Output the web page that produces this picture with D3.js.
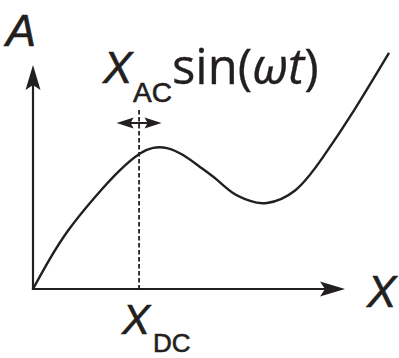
<!DOCTYPE html>
<html><head><meta charset="utf-8">
<script src="https://cdn.jsdelivr.net/npm/d3@7"></script>
<style>html,body{margin:0;padding:0;background:#fff;} svg{display:block}</style>
</head><body><svg id="c" width="399" height="358"></svg>
<script>
// Response curve A(X) (arbitrary units)
const curveX = [0, 0.48, 1.12, 1.99, 2.79, 3.43, 3.85, 4.29, 4.81, 5.35, 5.90, 6.41, 6.96, 7.50, 8.40, 9.30, 10.30, 11.41];
const curveA = [0, 1.20, 2.60, 4.11, 5.31, 6.05, 6.30, 6.29, 5.98, 5.45, 4.87, 4.29, 3.93, 3.84, 4.40, 5.90, 8.00, 10.54];
const xDC = 3.40;        // operating point
const xAC = 0.72;        // modulation amplitude
const dashTopA = 7.99;   // top of the dashed marker
const acArrowA = 7.41;   // level of the double arrow
const axisMaxX = 10, axisMaxA = 10;
const labels = { a: "A", x: "X", xac: "AC", xdc: "DC", sinPre: "sin(", omegaT: "ωt", sinPost: ")" };

const ink = "#231f20";
const svg = d3.select("#c");
svg.append("rect").attr("width", 399).attr("height", 358).attr("fill", "#fff");

const x = d3.scaleLinear().domain([0, axisMaxX]).range([33, 345]);
const y = d3.scaleLinear().domain([0, axisMaxA]).range([289, 65]);

function arrowHead(tx, ty, dir, L, W, n) {
  const [dx, dy] = dir, px = -dy, py = dx;
  const bx = tx - dx * L, by = ty - dy * L;
  const nx = tx - dx * (L - n), ny = ty - dy * (L - n);
  return `M${tx},${ty}L${bx + px * W},${by + py * W}L${nx},${ny}L${bx - px * W},${by - py * W}Z`;
}

// axes
const ox = x(0), oy = y(0);
svg.append("line").attr("x1", ox).attr("y1", oy + 1).attr("x2", ox).attr("y2", y(axisMaxA) + 15)
  .attr("stroke", ink).attr("stroke-width", 2.2);
svg.append("line").attr("x1", ox - 1.1).attr("y1", oy).attr("x2", x(axisMaxX) - 15).attr("y2", oy)
  .attr("stroke", ink).attr("stroke-width", 2.2);
svg.append("path").attr("d", arrowHead(ox, y(axisMaxA), [0, -1], 25, 7.5, 5)).attr("fill", ink);
svg.append("path").attr("d", arrowHead(x(axisMaxX), oy, [1, 0], 25, 7.5, 5)).attr("fill", ink);

// dashed marker
svg.append("line").attr("x1", x(xDC)).attr("x2", x(xDC)).attr("y1", y(dashTopA)).attr("y2", oy)
  .attr("stroke", ink).attr("stroke-width", 1.8).attr("stroke-dasharray", "4.5,2.5");

// double arrow
const ay = y(acArrowA);
svg.append("line").attr("x1", x(xDC - xAC) + 8).attr("x2", x(xDC + xAC) - 8).attr("y1", ay).attr("y2", ay)
  .attr("stroke", ink).attr("stroke-width", 2);
svg.append("path").attr("d", arrowHead(x(xDC - xAC), ay, [-1, 0], 17, 5.5, 3)).attr("fill", ink);
svg.append("path").attr("d", arrowHead(x(xDC + xAC), ay, [1, 0], 17, 5.5, 3)).attr("fill", ink);

// curve
const pts = curveX.map((v, i) => [v, curveA[i]]);
svg.append("path").datum(pts)
  .attr("d", d3.line().x(d => x(d[0])).y(d => y(d[1])).curve(d3.curveNatural))
  .attr("fill", "none").attr("stroke", ink).attr("stroke-width", 2.4);

// labels
const it = "'Liberation Sans', Arial, sans-serif";
function lab(tx, ty, size, italic, str) {
  return svg.append("text").attr("x", tx).attr("y", ty).attr("font-family", it)
    .attr("font-style", italic ? "italic" : "normal").attr("font-size", size)
    .attr("fill", ink).attr("stroke", ink).attr("stroke-width", 0.6).text(str);
}
lab(6, 46, 45, true, labels.a);
lab(103, 83, 44, true, labels.x);
lab(133, 102, 28, false, labels.xac);
const s = svg.append("text").attr("x", 172).attr("y", 84).attr("font-family", "'Open Sans', sans-serif")
  .attr("font-size", 49).attr("fill", ink).attr("stroke", ink).attr("stroke-width", 0.3);
s.append("tspan").text(labels.sinPre);
s.append("tspan").attr("font-style", "italic").text(labels.omegaT);
s.append("tspan").text(labels.sinPost);

lab(122, 334, 42, true, labels.x);
lab(153, 352, 26, false, labels.xdc);
lab(367, 307, 44, true, labels.x);
</script></body></html>
